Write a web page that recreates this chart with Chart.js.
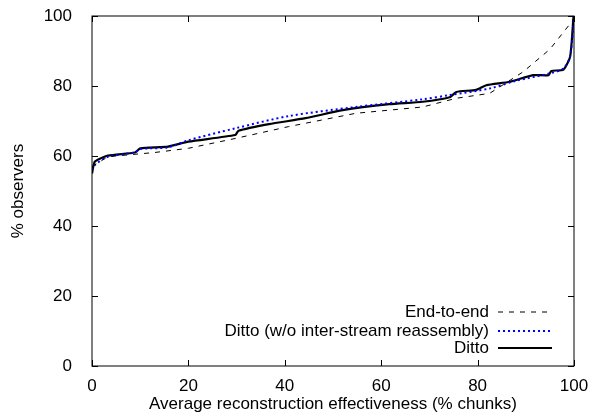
<!DOCTYPE html>
<html><head><meta charset="utf-8">
<script src="https://cdn.jsdelivr.net/npm/chart.js@4"></script>
<style>html,body{margin:0;padding:0;background:#fff}#wrap{width:594px;height:419px}</style>
</head><body><div id="wrap"><canvas id="c"></canvas></div>
<script>
var xTicks = [0, 20, 40, 60, 80, 100];
var yTicks = [0, 20, 40, 60, 80, 100];

var dittoX = [0, 0.6, 3.3, 8.9, 10, 15.8, 20, 29.7, 30.4, 36.7, 44.3, 52, 61.7, 68.6, 74.2, 75.6, 79.7, 81.8, 86.7, 91.5, 94.7, 95.3, 97.8, 99.2, 99.9, 100];
var dittoY = [55, 58.4, 60.1, 61, 62.2, 62.7, 64.1, 66, 67.2, 69.1, 70.8, 73.1, 74.8, 75.5, 76.8, 78.3, 78.9, 80.2, 81.2, 83.1, 83.1, 84.3, 84.7, 88.4, 99.8, 100];

var woX = [0, 0.6, 3.3, 8.9, 10, 15.8, 20, 29.7, 40.8, 54.7, 68.6, 74.2, 82.5, 88, 95, 97.8, 99.2, 100];
var woY = [56, 57.4, 59.8, 61, 62, 62.5, 64.5, 67.9, 71.4, 74, 76.2, 77.4, 79.3, 81.5, 83.6, 85, 88.6, 100];

var e2eX = [0, 3.3, 13, 20, 29.7, 40.8, 54.7, 68.6, 75.6, 82.5, 89.4, 95, 99.9];
var e2eY = [57, 59.8, 61, 62.2, 65, 68.4, 72.2, 74, 76.5, 77.9, 84, 90.5, 99];

function pts(xs, ys) { return xs.map(function (x, i) { return { x: x, y: ys[i] }; }); }

var FONT = '"Liberation Sans", Arial, sans-serif';
var FS = 17;

var frame = {
    id: 'frame',
    afterDraw: function (chart) {
        var ctx = chart.ctx, a = chart.chartArea;
        var xs = chart.scales.x, ys = chart.scales.y;
        ctx.save();
        ctx.strokeStyle = '#000';
        ctx.lineWidth = 1;
        ctx.strokeRect(a.left, a.top, a.right - a.left, a.bottom - a.top);
        ctx.beginPath();
        xTicks.forEach(function (t) {
            var p = Math.round(xs.getPixelForValue(t)) + 0.5;
            ctx.moveTo(p, a.bottom); ctx.lineTo(p, a.bottom - 6);
            ctx.moveTo(p, a.top); ctx.lineTo(p, a.top + 6);
        });
        yTicks.forEach(function (t) {
            var p = Math.round(ys.getPixelForValue(t)) + 0.5;
            ctx.moveTo(a.left, p); ctx.lineTo(a.left + 6, p);
            ctx.moveTo(a.right, p); ctx.lineTo(a.right - 6, p);
        });
        ctx.stroke();

        // legend, gnuplot style
        ctx.font = FS + 'px ' + FONT;
        ctx.textAlign = 'right';
        ctx.textBaseline = 'middle';
        ctx.fillStyle = '#000';
        var ds = chart.data.datasets;
        var rows = [312, 331, 348];
        ds.forEach(function (d, i) {
            ctx.fillText(d.label, 489, rows[i]);
            ctx.strokeStyle = d.borderColor;
            ctx.lineWidth = d.borderWidth;
            ctx.setLineDash(d.borderDash || []);
            ctx.beginPath();
            ctx.moveTo(498, rows[i]); ctx.lineTo(552, rows[i]);
            ctx.stroke();
        });
        ctx.restore();
    }
};

new Chart(document.getElementById('c'), {
    type: 'line',
    data: {
        datasets: [
            { label: 'End-to-end', data: pts(e2eX, e2eY), borderColor: '#000', borderWidth: 1, borderDash: [5, 6], pointRadius: 0, tension: 0 },
            { label: 'Ditto (w/o inter-stream reassembly)', data: pts(woX, woY), borderColor: '#0000ff', borderWidth: 2, borderDash: [2, 3], pointRadius: 0, tension: 0.3 },
            { label: 'Ditto', data: pts(dittoX, dittoY), borderColor: '#000', borderWidth: 2.2, pointRadius: 0, tension: 0.2 }
        ]
    },
    options: {
        responsive: true,
        maintainAspectRatio: false,
        animation: false,
        layout: { padding: { top: 16, right: 20, left: 0, bottom: 0 } },
        plugins: { legend: { display: false }, tooltip: { enabled: false } },
        scales: {
            x: {
                type: 'linear', min: 0, max: 100,
                afterBuildTicks: function (s) { s.ticks = xTicks.map(function (v) { return { value: v }; }); },
                afterFit: function (s) { s.height = 53; s.paddingRight = 0; },
                grid: { display: false }, border: { display: false },
                ticks: { color: '#000', font: { size: FS, family: FONT }, padding: 2, maxRotation: 0 },
                title: { display: true, text: 'Average reconstruction effectiveness (% chunks)', color: '#000', font: { size: FS, family: FONT }, padding: { top: 5 } }
            },
            y: {
                min: 0, max: 100,
                afterBuildTicks: function (s) { s.ticks = yTicks.map(function (v) { return { value: v }; }); },
                afterFit: function (s) { s.width = 92; s.paddingTop = 0; s.paddingBottom = 0; },
                grid: { display: false }, border: { display: false },
                ticks: { color: '#000', font: { size: FS, family: FONT }, padding: 12 },
                title: { display: true, text: '% observers', color: '#000', font: { size: FS, family: FONT }, padding: { top: 8, bottom: 12 } }
            }
        }
    },
    plugins: [frame]
});
</script>
</body></html>
